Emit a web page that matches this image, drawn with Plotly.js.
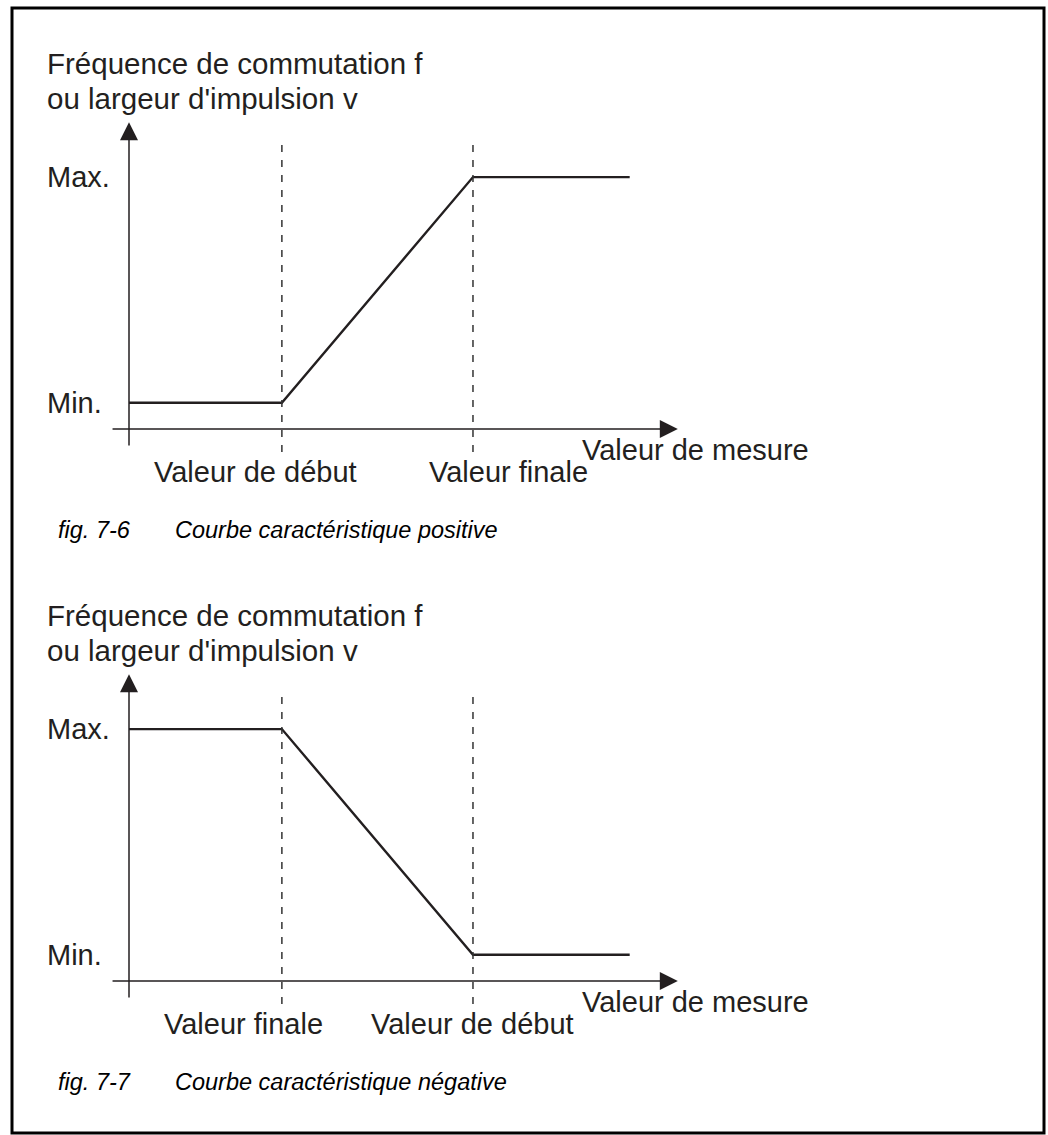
<!DOCTYPE html>
<html>
<head>
<meta charset="utf-8">
<script src="https://cdn.plot.ly/plotly-3.0.1.min.js"></script>
<style>
  html, body { margin: 0; padding: 0; background: #fff; }
</style>
</head>
<body>
<div id="chart"></div>
<script>
/*
    Courbes caractéristiques (fig. 7-6 / 7-7)
    Two schematic plots: output (f or v) versus measured value.
*/

// --- data ---
const measure = [0, 4, 9, 13.1];             // x of the curve corners
const positiveOut = [0.7, 0.7, 6.7, 6.7];    // fig. 7-6
const negativeOut = [6.7, 6.7, 0.7, 0.7];    // fig. 7-7
const markX = [4, 9];                        // dashed markers
const levelVals = [0.7, 6.7];
const levelNames = ["Min.", "Max."];
const topMarks = ["Valeur de début", "Valeur finale"];
const bottomMarks = ["Valeur finale", "Valeur de début"];
const yTitle = ["Fréquence de commutation f", "ou largeur d'impulsion v"];
const xTitle = "Valeur de mesure";
const captions = [
    ["fig. 7-6", "Courbe caractéristique positive"],
    ["fig. 7-7", "Courbe caractéristique négative"],
];

// --- page geometry (pixels) ---
const W = 1048, H = 1135;
const FONT = "Liberation Sans, Arial, Helvetica, sans-serif";
const INK = "#231f20";
const pxX = 38.22;      // pixels per x unit
const pxY = 37.6;       // pixels per y unit
const originX = 129;    // pixel x of y axis
const shift = 552;      // vertical offset of second figure
const originsY = [429, 429 + shift];

const px = (x) => x / W;
const py = (y) => 1 - y / H;

function xRange() {
    return [-originX / pxX, (W - originX) / pxX];
}

function yRange(origin, top, bottom) {
    return [(origin - bottom) / pxY, (origin - top) / pxY];
}

let data = [];
let shapes = [];
let annotations = [];

function label(x, y, text, size, xref, yref) {
    return {
        xref: xref || "paper", yref: yref || "paper",
        x: x, y: y,
        xanchor: "left", yanchor: "middle",
        text: text, showarrow: false,
        font: { family: FONT, size: size, color: INK },
    };
}

function arrow(xa, ya, x, y, ax, ay) {
    return {
        xref: xa, yref: ya, axref: xa, ayref: ya,
        x: x, y: y, ax: ax, ay: ay,
        text: "", showarrow: true,
        arrowhead: 2, arrowsize: 2.4, arrowwidth: 1.5, arrowcolor: INK,
        standoff: 0, startstandoff: 0,
    };
}

function buildFigure(i, xa, ya, values, marks) {
    const oy = originsY[i];
    const dy = i * shift;

    data.push({
        type: "scatter",
        mode: "lines",
        x: measure,
        y: values,
        xaxis: xa,
        yaxis: ya,
        line: { color: INK, width: 2.4 },
        hoverinfo: "skip",
    });

    // dashed markers
    markX.forEach((mx) => {
        shapes.push({
            type: "line",
            xref: xa, yref: ya,
            x0: mx, x1: mx,
            y0: -0.61, y1: 7.63,
            line: { color: "#333", width: 1.5, dash: "7px,8px" },
        });
    });

    // axes with arrows
    annotations.push(arrow(xa, ya, 0, 8.16, 0, -0.48));
    annotations.push(arrow(xa, ya, 14.36, 0, -0.47, 0));

    // level labels
    levelVals.forEach((v, k) => {
        annotations.push(label(px(45), v, levelNames[k], 29, "paper", ya));
    });

    // y title
    yTitle.forEach((t, k) => {
        annotations.push(label(px(45), py(63 + k * 35 + dy), t, 29.5));
    });

    // x title
    annotations.push(label(px(580), py(oy + 21), xTitle, 29));

    // marker labels
    const labelLeft = i === 0 ? [152, 427] : [162, 369];
    marks.forEach((m, k) => {
        annotations.push(label(px(labelLeft[k]), py(oy + 43), m, 29));
    });

    // caption
    let cap = label(px(56), py(530 + dy), "<i>" + captions[i][0] + "</i>", 23.5);
    cap.font.color = "#000";
    annotations.push(cap);
    cap = label(px(173), py(530 + dy), "<i>" + captions[i][1] + "</i>", 23.5);
    cap.font.color = "#000";
    annotations.push(cap);
}

buildFigure(0, "x", "y", positiveOut, topMarks);
buildFigure(1, "x2", "y2", negativeOut, bottomMarks);

// frame
shapes.push({
    type: "rect",
    xref: "paper", yref: "paper",
    x0: px(12), x1: px(1044),
    y0: py(1133), y1: py(8),
    line: { color: "#000", width: 3 },
});

const hidden = { visible: false, fixedrange: true };

let layout = {
    width: W,
    height: H,
    margin: { l: 0, r: 0, t: 0, b: 0 },
    paper_bgcolor: "#fff",
    plot_bgcolor: "#fff",
    showlegend: false,
    xaxis: Object.assign({ domain: [0, 1], range: xRange(), anchor: "y" }, hidden),
    yaxis: Object.assign({ domain: [0.5, 1], range: yRange(originsY[0], 0, H / 2), anchor: "x" }, hidden),
    xaxis2: Object.assign({ domain: [0, 1], range: xRange(), anchor: "y2" }, hidden),
    yaxis2: Object.assign({ domain: [0, 0.5], range: yRange(originsY[1], H / 2, H), anchor: "x2" }, hidden),
    shapes: shapes,
    annotations: annotations,
};

Plotly.newPlot("chart", data, layout, { displayModeBar: false, staticPlot: true });
</script>
</body>
</html>
